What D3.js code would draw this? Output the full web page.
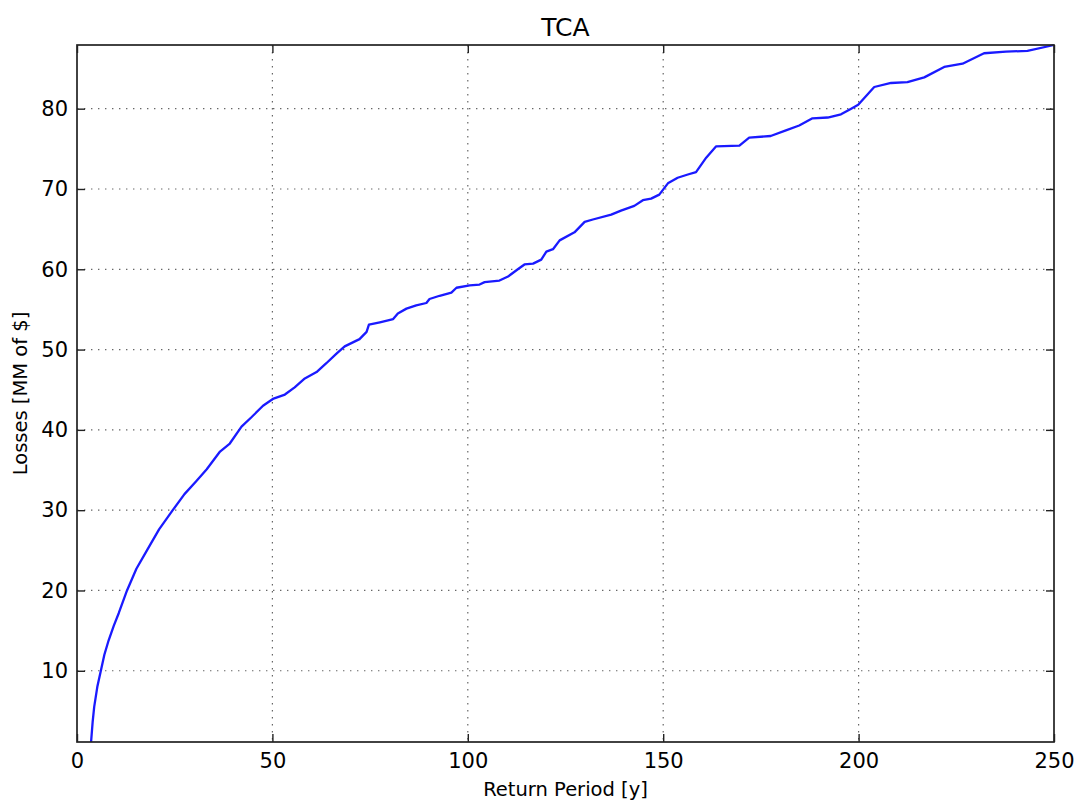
<!DOCTYPE html>
<html>
<head>
<meta charset="utf-8">
<script src="https://cdn.jsdelivr.net/npm/d3@7"></script>
<style>
  html, body { margin: 0; padding: 0; background: #fff; }
  svg { display: block; }
  text { font-family: "DejaVu Sans", sans-serif; fill: #000; }
</style>
</head>
<body>
<svg id="chart" width="1076" height="801"></svg>
<script>
// ---- data ----
const chartTitle = "TCA";
const xLabel = "Return Period [y]";
const yLabel = "Losses [MM of $]";
const returnPeriods = [3.6, 4.0, 4.4, 5.2, 6.1, 7.0, 8.1, 9.4, 10.7, 12.8, 15.2, 17.9, 21.0, 24.5, 27.5,
  30.5, 33.2, 36.6, 39.1,
  42.1, 44.7, 47.6, 50.3, 53.2, 55.7, 58.3, 61.3, 63.8, 66.4, 68.5, 72.3, 74.1, 74.7, 77.5,
  80.9, 82.1, 84.3, 86.8, 89.4, 90.2, 92.8, 95.8, 97.1, 100.5, 103.0, 104.3, 108.1, 110.3, 112.8,
  114.5, 116.7, 118.8, 120.1, 121.8, 123.5, 127.3, 129.9, 132.0, 136.7, 139.2, 142.6, 144.8, 146.9,
  149.0, 151.2, 153.7, 156.3, 158.4, 161.0, 163.5, 169.5, 172.0, 177.5, 181.4, 184.8, 188.2, 192.1,
  195.5, 198.1, 199.9, 204.0, 208.3, 212.5, 216.8, 221.9, 226.6, 232.1, 237.7, 243.2, 250.0];
const losses = [1.13, 3.6, 5.5, 8.0, 10.0, 12.0, 13.8, 15.6, 17.2, 20.0, 22.7, 25.0, 27.6, 30.0, 32.0,
  33.6, 35.1, 37.3, 38.3,
  40.4, 41.6, 43.0, 43.9, 44.4, 45.3, 46.4, 47.2, 48.3, 49.5, 50.4, 51.3, 52.2, 53.1, 53.4,
  53.8, 54.5, 55.1, 55.5, 55.8, 56.3, 56.7, 57.1, 57.7, 58.0, 58.1, 58.4, 58.6, 59.1, 60.0,
  60.6, 60.7, 61.2, 62.2, 62.5, 63.6, 64.6, 65.9, 66.2, 66.8, 67.3, 67.9, 68.6, 68.8,
  69.3, 70.7, 71.4, 71.8, 72.1, 73.9, 75.3, 75.4, 76.4, 76.6, 77.3, 77.9, 78.8, 78.9,
  79.3, 80.0, 80.5, 82.7, 83.2, 83.3, 83.9, 85.2, 85.6, 86.9, 87.1, 87.2, 87.93];
const xDomain = [0, 250];
const xTicks = [0, 50, 100, 150, 200, 250];
const yTicks = [10, 20, 30, 40, 50, 60, 70, 80];

// ---- layout ----
const W = 1076, H = 801;
const m = { left: 77, top: 45, right: 1076 - 1054, bottom: 801 - 742 };
const iw = W - m.left - m.right, ih = H - m.top - m.bottom;

const svg = d3.select("#chart");
const g = svg.append("g").attr("transform", `translate(${m.left},${m.top})`);

const x = d3.scaleLinear().domain(xDomain).range([0, iw]);
const y = d3.scaleLinear().domain(d3.extent(losses)).range([ih, 0]);

// grid
const grid = g.append("g").attr("class", "grid");
grid.selectAll("line.vx").data(xTicks.filter(t => t > xDomain[0] && t < xDomain[1])).enter()
  .append("line").attr("x1", d => x(d)).attr("x2", d => x(d)).attr("y1", 0).attr("y2", ih)
  .attr("stroke", "#666").attr("stroke-width", 1.2).attr("stroke-dasharray", "1.4,5.6");
grid.selectAll("line.hy").data(yTicks).enter()
  .append("line").attr("x1", 0).attr("x2", iw).attr("y1", d => y(d)).attr("y2", d => y(d))
  .attr("stroke", "#666").attr("stroke-width", 1.2).attr("stroke-dasharray", "1.4,5.6");

// line
const pts = returnPeriods.map((r, i) => [r, losses[i]]);
g.append("path").datum(pts)
  .attr("fill", "none").attr("stroke", "#1a1aff").attr("stroke-width", 2.3)
  .attr("stroke-linejoin", "round")
  .attr("d", d3.line().x(d => x(d[0])).y(d => y(d[1])));

// axes (ticks inward, on all sides)
const tl = 8;
const styleAxis = sel => {
  sel.select(".domain").remove();
  sel.selectAll(".tick line").attr("stroke", "#222").attr("stroke-width", 1.4);
  sel.selectAll(".tick text").style("font-family", "'DejaVu Sans', sans-serif").style("font-size", "21px").attr("fill", "#111");
};
g.append("g").attr("transform", `translate(0,${ih})`)
  .call(d3.axisBottom(x).tickValues(xTicks).tickFormat(d3.format("d")).tickSizeInner(-tl).tickPadding(11))
  .call(styleAxis);
g.append("g")
  .call(d3.axisTop(x).tickValues(xTicks).tickFormat("").tickSizeInner(-tl))
  .call(styleAxis);
g.append("g")
  .call(d3.axisLeft(y).tickValues(yTicks).tickFormat(d3.format("d")).tickSizeInner(-tl).tickPadding(9))
  .call(styleAxis);
g.append("g").attr("transform", `translate(${iw},0)`)
  .call(d3.axisRight(y).tickValues(yTicks).tickFormat("").tickSizeInner(-tl))
  .call(styleAxis);

// frame
g.append("rect").attr("x", 0).attr("y", 0).attr("width", iw).attr("height", ih)
  .attr("fill", "none").attr("stroke", "#222").attr("stroke-width", 1.7);

// title & labels
svg.append("text").attr("x", m.left + iw / 2).attr("y", 36).attr("text-anchor", "middle")
  .style("font-size", "25px").text(chartTitle);
svg.append("text").attr("x", m.left + iw / 2).attr("y", 796).attr("text-anchor", "middle")
  .style("font-size", "19.5px").attr("fill", "#222").text(xLabel);
svg.append("text").attr("transform", `translate(27,${m.top + ih / 2}) rotate(-90)`)
  .attr("text-anchor", "middle").style("font-size", "19.5px").attr("fill", "#222").text(yLabel);
</script>
</body>
</html>
